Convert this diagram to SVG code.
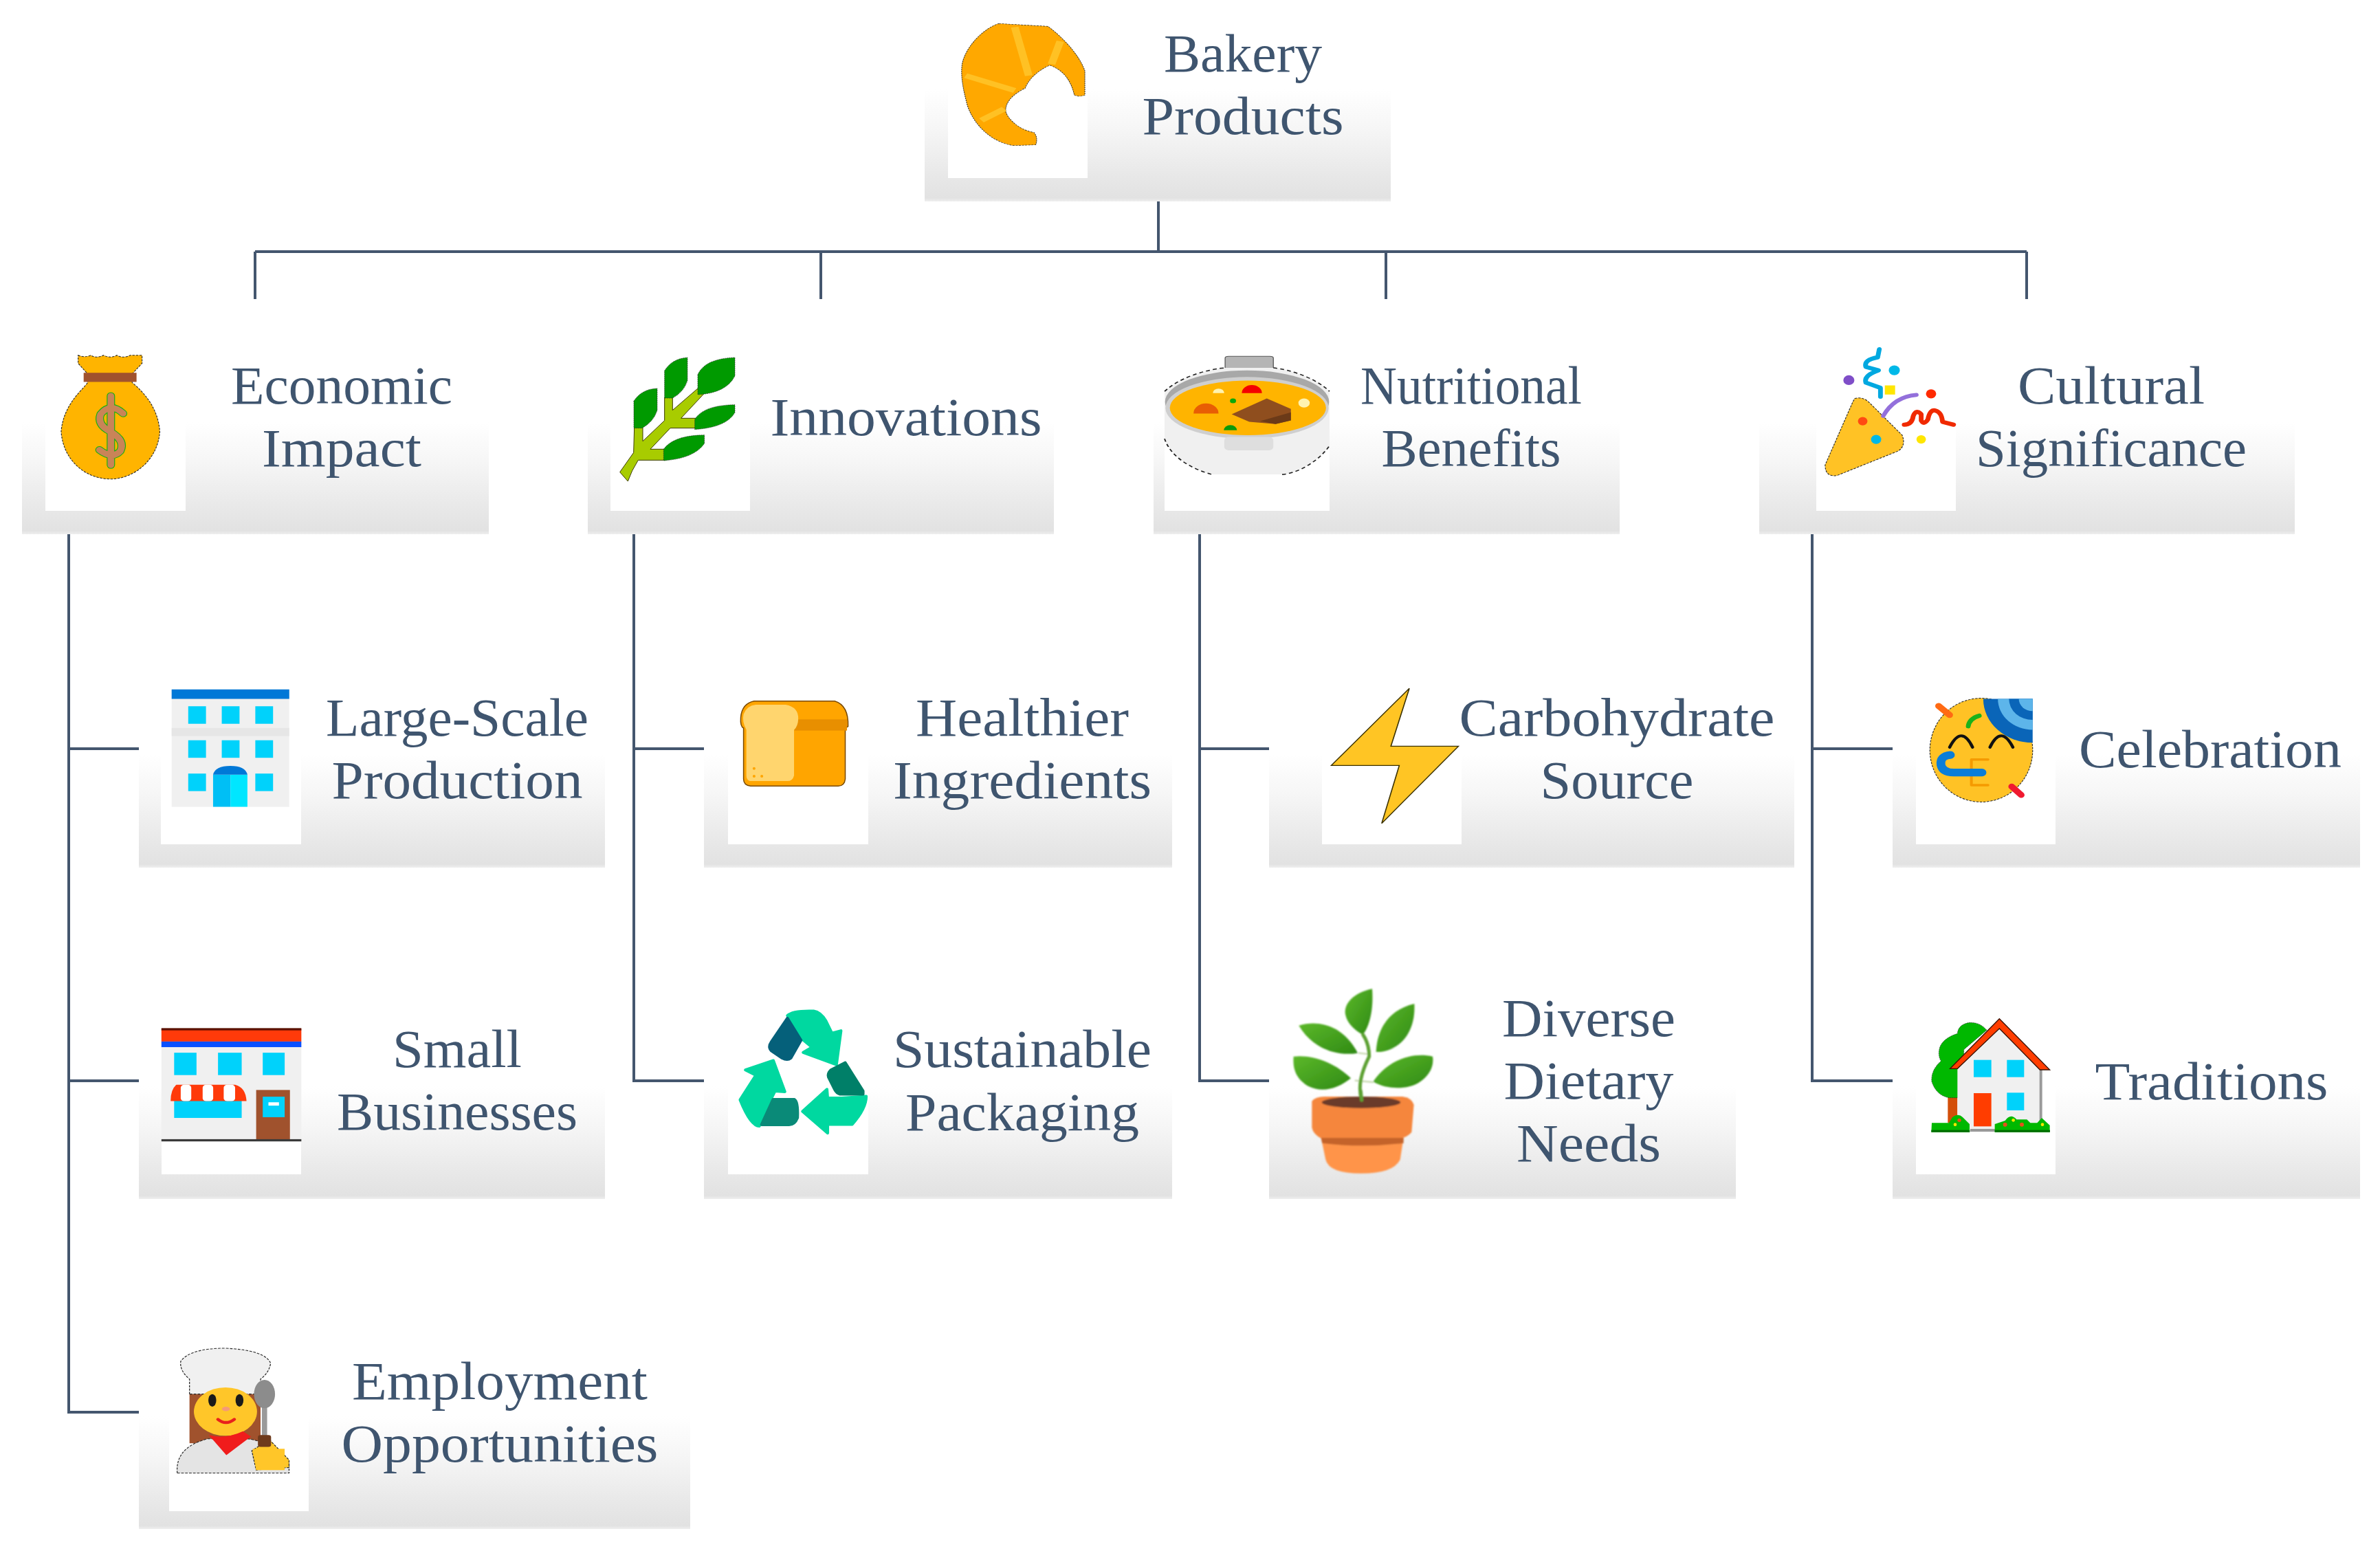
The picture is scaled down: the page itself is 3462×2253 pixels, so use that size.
<svg xmlns="http://www.w3.org/2000/svg" width="3462" height="2253" viewBox="0 0 3462 2253">
<style>
.t{font-family:"Liberation Serif","Times New Roman",serif;font-size:78px;fill:#3f556f;text-anchor:middle;transform:translateY(2px)}
.b{fill:url(#g)}
.w{fill:#fff}
.c{fill:none;stroke:#44566e;stroke-width:4}
.cy{fill:#00d2fb}
.s{fill:none;stroke-linecap:round;stroke-linejoin:round}
.e{stroke:#2b2b2b;stroke-width:2;stroke-dasharray:6 3}
.r{stroke-width:8;stroke-linejoin:round}
</style>
<defs>
<linearGradient id="g" x1="0" y1="0" x2="0" y2="1">
<stop offset="0" stop-color="#fff"/><stop offset=".35" stop-color="#f6f6f6"/><stop offset=".8" stop-color="#e7e7e7"/><stop offset=".97" stop-color="#e2e2e2"/><stop offset="1" stop-color="#efefef"/>
</linearGradient>
<linearGradient id="lf" x1="0" y1="0" x2="1" y2="1"><stop offset="0" stop-color="#5cb82a"/><stop offset="1" stop-color="#2f8a14"/></linearGradient>
<clipPath id="hat"><rect x="480" y="1052" width="210" height="170"/></clipPath>
<filter id="soft" x="-10%" y="-10%" width="120%" height="120%"><feGaussianBlur stdDeviation="3"/></filter>
</defs>
<rect width="3462" height="2253" fill="#fff"/>

<g id="connectors">
<path class="c" d="M1685 293V366M371 366H2948M371 366V435M1194 366V435M2016 366V435M2948 366V435"/>
<path class="c" d="M100 776V2054H202M100 1089H202M100 1572H202"/>
<path class="c" d="M922 776V1572H1024M922 1089H1024"/>
<path class="c" d="M1745 776V1572H1846M1745 1089H1846"/>
<path class="c" d="M2636 776V1572H2753M2636 1089H2753"/>
</g>

<g id="node-bakery">
<rect class="b" x="1345" y="130" width="678" height="163"/><rect class="w" x="1379" y="60" width="203" height="199"/>
<g transform="translate(1300,0) scale(.5102,.3333)">
<path class="e" fill="#ffa800" d="M300,103 L440,115 C480,160 530,240 545,310 L545,415 Q530,425 515,415 C510,380 495,310 445,285 C420,300 385,340 375,385 C340,410 315,450 320,490 C330,530 365,570 400,578 Q412,600 405,632 L340,635 C280,620 230,550 210,460 C200,400 190,340 195,280 C205,200 260,120 300,103 Z"/>
<path fill="none" stroke="#ffc124" stroke-width="22" d="M345,118 L385,330M475,180 L450,280M205,330 L345,395M250,525 L315,475"/>
</g>
<text class="t" x="1808" y="102" textLength="230" lengthAdjust="spacingAndGlyphs">Bakery</text>
<text class="t" x="1808" y="193" textLength="293" lengthAdjust="spacingAndGlyphs">Products</text>
</g>

<g id="node-economic">
<rect class="b" x="32" y="614" width="679" height="163"/><rect class="w" x="66" y="520" width="204" height="223"/>
<g transform="translate(0,480) scale(.574,.51)">
<path class="e" fill="#ffb400" d="M198,72 Q215,80 230,72 Q245,82 262,72 Q280,82 296,72 Q312,82 330,72 L360,72 V95 L335,125 V150 Q400,210 405,290 C400,370 340,425 280,425 C215,425 160,370 155,290 C160,210 215,165 222,150 V125 L198,95 Z"/>
<rect x="212" y="122" width="134" height="26" fill="#a0522d"/>
<path class="s" stroke="#12b012" stroke-width="21" d="M312,238 Q280,205 255,240 Q245,270 280,290 Q318,315 305,345 Q285,370 252,342M281,188V385"/>
<path class="s" stroke="#c98458" stroke-width="17" d="M312,238 Q280,205 255,240 Q245,270 280,290 Q318,315 305,345 Q285,370 252,342M281,188V385"/>
</g>
<text class="t" x="497" y="585" textLength="322" lengthAdjust="spacingAndGlyphs">Economic</text>
<text class="t" x="497" y="676" textLength="232" lengthAdjust="spacingAndGlyphs">Impact</text>
</g>

<g id="node-innovations">
<rect class="b" x="855" y="614" width="678" height="163"/><rect class="w" x="888" y="520" width="203" height="223"/>
<g transform="translate(860,490) scale(.3333)">
<path fill="#a8cc00" stroke="#3a3a00" stroke-width="3" d="M125,590 L185,505 L188,395 H225 V455 L320,365 L320,265 H355 V320 L465,225 L490,250 L392,355 H460 V398 H345 L258,490 H325 V538 H205 Q175,585 160,630 Z"/>
<g fill="#009a00" class="e"><path d="M186,280 Q220,228 288,225 V320 Q272,370 222,398 H186Z"/><path d="M320,148 Q352,95 420,90 V190 Q405,240 355,267 H320Z"/><path d="M465,165 Q495,95 627,90 V170 Q590,245 465,252Z"/><path d="M452,360 Q490,298 627,296 V330 Q590,395 452,404Z"/><path d="M316,490 Q360,430 494,428 V465 Q450,530 316,540Z"/></g>
</g>
<text class="t" x="1318" y="631" textLength="395" lengthAdjust="spacingAndGlyphs">Innovations</text>
</g>

<g id="node-nutritional">
<rect class="b" x="1678" y="614" width="678" height="163"/><rect class="w" x="1694" y="520" width="240" height="223"/>
<g transform="translate(1680,480) scale(.638,.51)">
<path fill="#b5b5b5" stroke="#555" stroke-width="2" d="M160,112 V80 Q160,75 168,75 H262 Q270,75 270,80 V112Z"/>
<path fill="#f0f0f0" d="M22,175 C60,130 130,110 160,108 H270 C310,112 370,140 398,175 V330 C370,380 320,410 290,412 H130 C80,395 35,360 22,310 Z"/>
<path fill="none" stroke="#222" stroke-width="3" stroke-dasharray="9 7" d="M22,175 C60,130 130,110 160,108M270,108 C310,112 370,140 398,175M22,310 C35,360 80,395 130,412M290,412 C320,410 370,380 398,330"/>
<ellipse cx="210" cy="205" rx="187" ry="90" fill="#a8a8a8"/><ellipse cx="210" cy="222" rx="186" ry="88" fill="#cfcfcf"/><ellipse cx="212" cy="222" rx="178" ry="78" fill="#ffb400"/>
<rect x="158" y="305" width="112" height="38" rx="10" fill="#dedede"/>
<path fill="#f40000" d="M198,180 A22,22 0 0 1 244,180Z"/><path fill="#e85d04" d="M88,238 A28,28 0 0 1 145,238Z"/><path fill="#0a9a0a" d="M157,286 A15,15 0 0 1 187,286Z"/><circle cx="178" cy="202" r="7" fill="#0aa80a"/><circle cx="340" cy="208" r="13" fill="#fff3b0"/><path fill="#fff3b0" d="M132,180 A12,12 0 0 1 158,180Z"/>
<path fill="#8f4e1e" d="M175,240 L255,195 L310,225 V258 L275,268 L215,262Z"/><path fill="#6b3a18" d="M240,260 L310,235 V258 L275,268Z"/>
</g>
<text class="t" x="2140" y="585" textLength="322" lengthAdjust="spacingAndGlyphs">Nutritional</text>
<text class="t" x="2140" y="676" textLength="261" lengthAdjust="spacingAndGlyphs">Benefits</text>
</g>

<g id="node-cultural">
<rect class="b" x="2559" y="614" width="779" height="163"/><rect class="w" x="2642" y="500" width="203" height="243"/>
<g transform="translate(2560,480) scale(.575,.51)">
<path class="e" fill="#ffc225" d="M240,195 Q260,190 275,205 L360,300 Q370,330 350,345 L195,415 Q165,420 165,385 L235,205 Z"/>
<circle cx="260" cy="260" r="12" fill="#ff4a12"/><circle cx="294" cy="312" r="13" fill="#00b8e8"/>
<g class="s"><path stroke="#00a8e0" stroke-width="12" d="M302,55 L298,78 Q262,85 268,105 L300,115 Q262,130 268,150 L305,165 V190"/><path stroke="#9370db" stroke-width="11" d="M312,245 Q340,190 396,185"/><path stroke="#f02a00" stroke-width="12" d="M365,270 Q385,270 388,245 Q395,225 408,240 V258 Q415,272 425,255 Q430,225 445,230 Q460,235 462,262 L490,270"/></g>
<circle cx="340" cy="115" r="14" fill="#00b8e8"/><circle cx="225" cy="143" r="14" fill="#7f4ec8"/><rect x="316" y="158" width="26" height="26" fill="#ffe600"/><circle cx="433" cy="182" r="13" fill="#ff2a00"/><circle cx="408" cy="312" r="12" fill="#ffe600"/>
</g>
<text class="t" x="3071" y="585" textLength="272" lengthAdjust="spacingAndGlyphs">Cultural</text>
<text class="t" x="3071" y="676" textLength="394" lengthAdjust="spacingAndGlyphs">Significance</text>
</g>

<g id="node-large-scale">
<rect class="b" x="202" y="1098" width="678" height="164"/><rect class="w" x="234" y="1000" width="204" height="228"/>
<g transform="translate(0,480) scale(.574,.51)">
<rect x="435" y="1025" width="298" height="335" fill="#f0f0f0"/><rect x="435" y="1025" width="298" height="27" fill="#0078d7"/><rect x="435" y="1135" width="298" height="23" fill="#e6e6e6"/>
<g class="cy"><rect x="477" y="1073" width="45" height="50"/><rect x="562" y="1073" width="45" height="50"/><rect x="647" y="1073" width="45" height="50"/><rect x="477" y="1170" width="45" height="50"/><rect x="562" y="1170" width="45" height="50"/><rect x="647" y="1170" width="45" height="50"/><rect x="477" y="1265" width="45" height="50"/><rect x="647" y="1265" width="45" height="50"/></g>
<path fill="#00bff5" d="M540,1360 V1268 H584 V1360Z"/><path fill="#00e6ff" d="M584,1360 V1268 H627 V1360Z"/><path fill="#0078d7" d="M540,1268 Q545,1243 584,1243 Q622,1243 627,1268Z"/>
</g>
<text class="t" x="665" y="1068" textLength="382" lengthAdjust="spacingAndGlyphs">Large-Scale</text>
<text class="t" x="665" y="1159" textLength="365" lengthAdjust="spacingAndGlyphs">Production</text>
</g>

<g id="node-small-businesses">
<rect class="b" x="202" y="1580" width="678" height="164"/><rect class="w" x="235" y="1480" width="203" height="228"/>
<g transform="translate(60,1400) scale(.638,.542)">
<rect x="274" y="178" width="319" height="300" fill="#f0f0f0"/><rect x="274" y="178" width="319" height="34" fill="#ff3a0a"/><rect x="274" y="176" width="319" height="6" fill="#5a1000"/><rect x="274" y="212" width="319" height="15" fill="#0a50ff"/>
<g class="cy"><rect x="303" y="242" width="51" height="60"/><rect x="403" y="242" width="54" height="60"/><rect x="505" y="242" width="50" height="60"/><rect x="303" y="365" width="154" height="52"/></g>
<path fill="#ff3a0a" d="M308,328 H442 Q466,335 468,372 H295 Q295,340 308,328Z"/>
<g fill="#fff"><rect x="318" y="328" width="24" height="44" rx="8"/><rect x="368" y="328" width="24" height="44" rx="8"/><rect x="416" y="328" width="26" height="44" rx="8"/></g>
<rect x="490" y="342" width="77" height="136" fill="#a0522d"/><rect x="505" y="360" width="50" height="55" fill="#00d2fb"/><rect x="518" y="375" width="24" height="9" fill="#fff"/>
<rect x="274" y="474" width="319" height="6" fill="#3a3a3a"/>
</g>
<text class="t" x="665" y="1550" textLength="188" lengthAdjust="spacingAndGlyphs">Small</text>
<text class="t" x="665" y="1641" textLength="350" lengthAdjust="spacingAndGlyphs">Businesses</text>
</g>

<g id="node-employment">
<rect class="b" x="202" y="2060" width="802" height="164"/><rect class="w" x="246" y="1950" width="203" height="248"/>
<g transform="translate(60,1400) scale(.638,.542)">
<rect x="338" y="1155" width="162" height="135" fill="#a0522d"/>
<path class="e" fill="#f0f0f0" d="M338,1158 V1118 Q315,1095 318,1070 Q340,1035 420,1035 Q510,1040 523,1075 Q520,1100 500,1118 V1158Z"/>
<ellipse cx="420" cy="1205" rx="72" ry="65" fill="#ffc629"/>
<ellipse cx="390" cy="1175" rx="9" ry="17" fill="#1a1a1a"/><ellipse cx="452" cy="1175" rx="9" ry="17" fill="#1a1a1a"/><ellipse cx="421" cy="1198" rx="9" ry="6" fill="#f59a78"/>
<path class="s" stroke="#e8221c" stroke-width="8" d="M403,1226 Q421,1243 440,1226"/>
<path class="e" fill="#e4e4e4" d="M310,1370 Q305,1300 380,1278 H470 Q540,1290 565,1345 V1370Z"/>
<path fill="#f01c1c" d="M382,1268 L422,1322 L478,1272 L460,1258 Q420,1280 382,1268Z"/>
<path fill="#ffc629" stroke="#2b2b2b" stroke-width="2" stroke-dasharray="6 3" d="M520,1280 L565,1335 V1355 L490,1362 L480,1310Z"/>
<path fill="#ffc629" d="M482,1305 H555 V1362 H490Z"/>
<rect x="503" y="1180" width="12" height="110" fill="#9a9a9a"/><ellipse cx="509" cy="1158" rx="24" ry="38" fill="#8c8c8c"/>
<rect x="494" y="1268" width="30" height="32" rx="6" fill="#6e3a1c"/>
</g>
<text class="t" x="727" y="2033" textLength="430" lengthAdjust="spacingAndGlyphs">Employment</text>
<text class="t" x="727" y="2124" textLength="461" lengthAdjust="spacingAndGlyphs">Opportunities</text>
</g>

<g id="node-healthier">
<rect class="b" x="1024" y="1098" width="681" height="164"/><rect class="w" x="1059" y="1000" width="204" height="228"/>
<g transform="translate(1000,980) scale(.51)">
<path fill="#ffa500" stroke="#7a4a00" stroke-width="3" d="M190,78 H420 Q460,90 458,150 L450,155 V300 Q448,320 430,320 H180 Q160,318 160,300 V155 Q150,150 152,125 Q155,85 190,78Z"/>
<rect x="305" y="130" width="150" height="32" fill="#e88f00"/>
<path fill="#ffd56e" d="M195,88 H280 Q318,95 316,130 Q315,150 304,160 V290 Q300,306 285,306 H178 Q168,302 168,290 V160 Q155,135 160,115 Q170,90 195,88Z"/>
<g fill="#ffa500"><circle cx="190" cy="270" r="4"/><circle cx="190" cy="292" r="4"/><circle cx="212" cy="292" r="4"/></g>
</g>
<text class="t" x="1487" y="1068" textLength="310" lengthAdjust="spacingAndGlyphs">Healthier</text>
<text class="t" x="1487" y="1159" textLength="376" lengthAdjust="spacingAndGlyphs">Ingredients</text>
</g>

<g id="node-sustainable">
<rect class="b" x="1024" y="1580" width="681" height="164"/><rect class="w" x="1059" y="1460" width="204" height="248"/>
<g transform="translate(1000,980) scale(.51)">
<path class="r" fill="#00d8a0" stroke="#00d8a0" d="M285,975 Q300,960 360,962 Q380,965 395,990 L412,1025 L438,1018 L425,1115 L330,1080 L355,1065 L325,1040 Z"/>
<path class="r" fill="#05607a" stroke="#05607a" d="M285,982 L324,1045 L295,1096 Q285,1104 270,1096 L239,1075 Q229,1065 239,1050Z"/>
<path class="r" fill="#00d8a0" stroke="#00d8a0" d="M510,1205 Q510,1240 470,1285 H400 V1310 L328,1248 L398,1185 L400,1210 H440 Z"/>
<path class="r" fill="#007f68" stroke="#007f68" d="M450,1109 L501,1190 V1199 H435 Q425,1196 420,1186 L402,1150 Q399,1140 409,1130Z"/>
<path class="r" fill="#00d8a0" stroke="#00d8a0" d="M245,1103 L278,1192 L250,1190 L240,1210 L205,1290 Q180,1290 150,1215 L195,1145 L165,1130Z"/>
<path class="r" fill="#0a8a78" stroke="#0a8a78" d="M244,1214 H305 Q316,1219 314,1266 Q306,1286 290,1286 H211Z"/>
</g>
<text class="t" x="1487" y="1550" textLength="376" lengthAdjust="spacingAndGlyphs">Sustainable</text>
<text class="t" x="1487" y="1642" textLength="340" lengthAdjust="spacingAndGlyphs">Packaging</text>
</g>

<g id="node-carbohydrate">
<rect class="b" x="1846" y="1098" width="764" height="164"/><rect class="w" x="1923" y="1000" width="203" height="228"/>
<g transform="translate(1680,480) scale(.638,.51)">
<polygon fill="#ffc524" stroke="#3a3000" stroke-width="2.500" points="580,1022 538,1187 692,1187 517,1407 557,1242 402,1242"/>
</g>
<text class="t" x="2352" y="1068" textLength="459" lengthAdjust="spacingAndGlyphs">Carbohydrate</text>
<text class="t" x="2352" y="1159" textLength="223" lengthAdjust="spacingAndGlyphs">Source</text>
</g>

<g id="node-diverse">
<rect class="b" x="1846" y="1580" width="679" height="164"/>
<g transform="translate(1860,1420) scale(.3333)">
<g filter="url(#soft)">
<g fill="url(#lf)"><path d="M408,55 C330,70 280,120 292,170 C300,210 340,240 368,255 C395,220 415,150 408,55Z"/><path d="M592,120 C500,140 430,210 425,330 C500,335 600,270 592,120Z"/><path d="M88,215 C170,190 280,210 345,335 C260,350 150,320 88,215Z"/><path d="M65,350 C150,340 250,380 315,445 C260,490 190,510 130,480 C80,450 60,410 65,350Z"/><path d="M672,350 C590,330 480,360 412,460 C480,500 570,490 610,465 C650,440 680,400 672,350Z"/></g>
<path class="s" stroke="#c7d9b0" stroke-width="7" d="M395,340 L350,335M335,455 L412,462"/>
<path class="s" stroke="#5ca030" stroke-width="15" d="M362,540 C345,480 360,420 395,350 C395,310 385,280 368,255"/>
<path fill="#f5863c" d="M145,545 Q160,525 200,525 H540 Q580,530 590,560 L580,680 Q560,705 520,710 H190 Q150,690 145,660Z"/>
<ellipse cx="360" cy="550" rx="172" ry="25" fill="#6a3a2a"/>
<path class="s" stroke="#5ca030" stroke-width="15" d="M362,540 L358,500"/>
<path fill="#ff944a" d="M185,705 H545 L530,800 Q500,860 360,860 Q220,860 205,800Z"/>
<path fill="#c4632a" d="M185,705 H545 V728 Q360,750 190,728Z"/>
</g>
</g>
<text class="t" x="2311" y="1505" textLength="252" lengthAdjust="spacingAndGlyphs">Diverse</text>
<text class="t" x="2311" y="1596" textLength="247" lengthAdjust="spacingAndGlyphs">Dietary</text>
<text class="t" x="2311" y="1687" textLength="210" lengthAdjust="spacingAndGlyphs">Needs</text>
</g>

<g id="node-celebration">
<rect class="b" x="2753" y="1098" width="680" height="164"/><rect class="w" x="2787" y="1000" width="203" height="228"/>
<g transform="translate(2560,480) scale(.575,.51)">
<ellipse class="e" cx="560" cy="1198" rx="130" ry="148" fill="#ffc225"/>
<g clip-path="url(#hat)"><circle cx="690" cy="1052" r="125" fill="#0a65b8"/><circle cx="690" cy="1052" r="88" fill="#5db5ea"/><circle cx="690" cy="1052" r="60" fill="#0a65b8"/><circle cx="690" cy="1052" r="35" fill="#5db5ea"/></g>
<g class="s">
<path stroke="#111" stroke-width="8" d="M480,1190 Q510,1125 538,1190M582,1190 Q610,1125 640,1190"/>
<path stroke="#f59a00" stroke-width="7" d="M577,1225 H535 V1298 H577M535,1262H565"/>
<path stroke="#0a7dd8" stroke-width="22" d="M482,1212 Q455,1215 458,1240 Q462,1262 490,1262 H562"/>
<path stroke="#19b21a" stroke-width="12" d="M527,1130 Q530,1108 555,1100"/>
<path stroke="#ff6a13" stroke-width="17" d="M452,1072 L480,1098"/>
<path stroke="#f01a30" stroke-width="17" d="M637,1302 L661,1326"/>
</g>
</g>
<text class="t" x="3215" y="1114" textLength="382" lengthAdjust="spacingAndGlyphs">Celebration</text>
</g>

<g id="node-traditions">
<rect class="b" x="2753" y="1580" width="680" height="164"/><rect class="w" x="2787" y="1460" width="203" height="248"/>
<g transform="translate(2790,1460) scale(.3333)">
<rect x="130" y="395" width="42" height="125" fill="#d34f0a"/>
<path class="e" fill="#00b800" d="M300,115 Q270,80 225,82 Q175,90 172,130 Q110,150 95,190 Q85,225 100,250 Q55,290 60,340 Q80,400 135,410 H200 V200Z"/>
<path fill="#f0f0f0" d="M172,285 L355,100 L530,285 V550 H172Z"/>
<rect x="530" y="285" width="12" height="235" fill="#9a9a9a"/>
<path fill="#ff3d00" stroke="#3a1000" stroke-width="4" d="M140,283 L355,65 L575,288 H532 L355,108 L172,283Z"/>
<g class="cy"><rect x="243" y="245" width="77" height="75"/><rect x="388" y="245" width="75" height="75"/><rect x="388" y="388" width="75" height="77"/></g>
<rect x="243" y="390" width="77" height="145" fill="#ff3d00"/>
<rect x="228" y="546" width="108" height="12" fill="#999"/>
<path fill="#00b800" d="M60,520 H135 L150,495 Q175,475 195,495 L225,525 V560 H58Z"/>
<path fill="#00b800" d="M335,525 L380,510 Q405,475 430,505 H475 L490,520 H520 L540,498 L575,530 V560 H335Z"/>
<rect x="58" y="551" width="168" height="9" fill="#006a00"/><rect x="335" y="551" width="241" height="9" fill="#006a00"/>
<g fill="#e4521a"><circle cx="180" cy="508" r="8"/><circle cx="380" cy="527" r="9"/><circle cx="453" cy="527" r="9"/></g>
<g fill="#ffe600"><circle cx="162" cy="527" r="7"/><circle cx="416" cy="508" r="7"/><circle cx="543" cy="527" r="7"/></g>
</g>
<text class="t" x="3217" y="1597" textLength="339" lengthAdjust="spacingAndGlyphs">Traditions</text>
</g>
</svg>
